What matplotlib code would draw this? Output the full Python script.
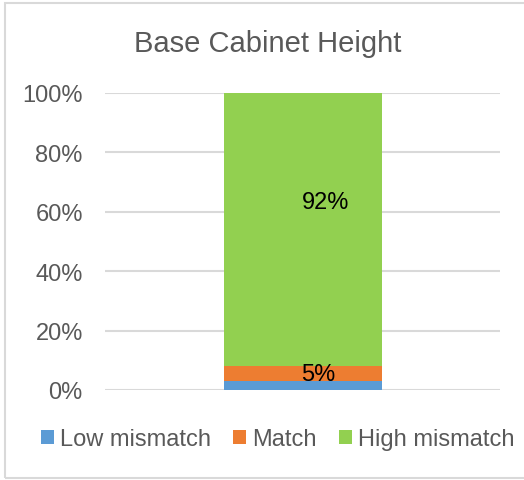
import matplotlib
matplotlib.use("Agg")
import matplotlib.pyplot as plt
from matplotlib.patches import Rectangle
from matplotlib.ticker import FuncFormatter

plt.rcParams["font.family"] = ["Liberation Sans", "DejaVu Sans"]

# -------------------- Data --------------------
category = ["Base Cabinet Height"]
series_names = ["Low mismatch", "Match", "High mismatch"]
low_mismatch = [3]
match = [5]
high_mismatch = [92]
labels = [None, "5%", "92%"]
label_pos = [None, 0.5, 0.6]  # fraction of segment height where label sits
label_dx = [0, 0.04, 0.058]  # labels sit a little right of the bar centre
colors = ["#5b9bd5", "#ed7d31", "#92d050"]

fig = plt.figure(figsize=(5.24, 4.81), dpi=100)
ax = fig.add_axes([105 / 524, 1 - 391 / 481, 395 / 524, 297 / 481])

# stacked bar
bottom = [0]
for name, vals, col, lab, pos, dx in zip(
    series_names, [low_mismatch, match, high_mismatch], colors, labels,
    label_pos, label_dx
):
    ax.bar([0], vals, width=0.4, bottom=bottom, color=col, label=name, zorder=3)
    if lab is not None:
        ax.text(dx, bottom[0] + vals[0] * pos, lab, ha="center", va="center",
                fontsize=17, color="black", zorder=4)
    bottom = [bottom[0] + vals[0]]

ax.set_xlim(-0.5, 0.5)
ax.set_ylim(0, 100)
ax.set_yticks(range(0, 101, 20))
ax.yaxis.set_major_formatter(FuncFormatter(lambda v, p: f"{int(v)}%"))
ax.set_xticks([])
ax.tick_params(axis="y", length=0, pad=16, labelsize=17, labelcolor="#595959")
ax.grid(axis="y", color="#d9d9d9", linewidth=1.5, zorder=0)
for s in ax.spines.values():
    s.set_visible(False)

fig.text(268 / 524, 1 - 44 / 481, "Base Cabinet Height", ha="center", va="center",
         fontsize=21, color="#595959")

leg = fig.legend(loc="center", bbox_to_anchor=(0.53, 1 - 440 / 481), ncol=3,
                 frameon=False, fontsize=17, handlelength=0.55, handleheight=0.55,
                 handletextpad=0.25, columnspacing=0.95, borderaxespad=0)
for t in leg.get_texts():
    t.set_color("#595959")

# chart frame
fig.patches.append(Rectangle((5 / 524, 2 / 481), 1.2, 475 / 481,
                             transform=fig.transFigure, fill=False,
                             edgecolor="#d9d9d9", linewidth=1.5))

fig.savefig("out.png", dpi=100)
